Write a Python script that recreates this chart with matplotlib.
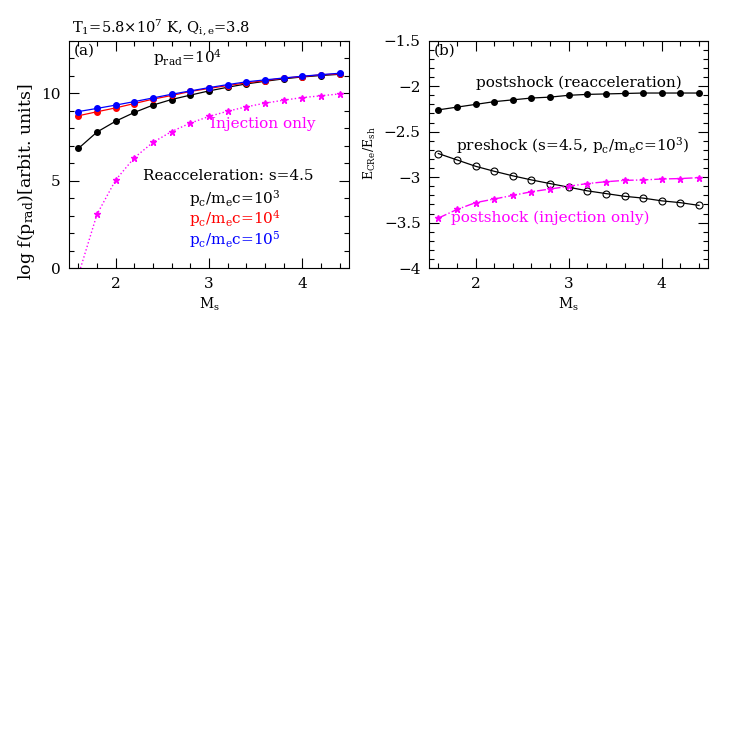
import numpy as np
import matplotlib
matplotlib.use('Agg')
import matplotlib.pyplot as plt
from matplotlib.ticker import MultipleLocator

plt.rcParams['font.family'] = 'DejaVu Serif'
plt.rcParams['mathtext.fontset'] = 'dejavuserif'

# Mach numbers
mach = [1.6, 1.8, 2.0, 2.2, 2.4, 2.6, 2.8, 3.0, 3.2, 3.4, 3.6, 3.8, 4.0, 4.2, 4.4]

# panel (a): log f(p_rad)
f_pc3 = [6.84, 7.78, 8.40, 8.90, 9.32, 9.64, 9.89, 10.13, 10.34, 10.53, 10.68, 10.82, 10.93, 11.01, 11.08]
f_pc4 = [8.71, 8.94, 9.16, 9.41, 9.66, 9.87, 10.10, 10.27, 10.44, 10.59, 10.72, 10.86, 10.95, 11.05, 11.10]
f_pc5 = [8.95, 9.13, 9.32, 9.52, 9.73, 9.94, 10.13, 10.32, 10.49, 10.65, 10.76, 10.87, 10.97, 11.06, 11.14]
f_inj = [-0.4, 3.08, 5.04, 6.31, 7.19, 7.81, 8.29, 8.67, 8.97, 9.22, 9.43, 9.60, 9.75, 9.85, 9.96]

# panel (b): log E_CRe/E_sh
e_post_reacc = [-2.26, -2.23, -2.20, -2.17, -2.15, -2.13, -2.12, -2.10, -2.09, -2.085, -2.08, -2.075, -2.075, -2.075, -2.075]
e_pre = [-2.74, -2.81, -2.88, -2.935, -2.985, -3.03, -3.07, -3.11, -3.15, -3.18, -3.21, -3.23, -3.26, -3.28, -3.31]
e_post_inj = [-3.45, -3.355, -3.28, -3.24, -3.20, -3.16, -3.13, -3.10, -3.07, -3.05, -3.035, -3.03, -3.02, -3.015, -3.005]

fig = plt.figure(figsize=(7.47, 7.47), dpi=100)
ax1 = fig.add_axes([0.0924, 0.641, 0.3746, 0.3045])
ax2 = fig.add_axes([0.5743, 0.641, 0.3739, 0.3045])


def style_axes(ax):
    ax.tick_params(which='both', direction='in', top=True, right=True, labelsize=11)
    ax.tick_params(which='major', length=7, width=0.8, pad=6)
    ax.tick_params(which='minor', length=3.5, width=0.8)
    for s in ax.spines.values():
        s.set_linewidth(0.8)


# panel (a)
ax1.plot(mach, f_pc3, '-o', color='black', lw=0.9, ms=4)
ax1.plot(mach, f_pc4, '-o', color='red', lw=0.9, ms=4)
ax1.plot(mach, f_pc5, '-o', color='blue', lw=0.9, ms=4)
ax1.plot(mach, f_inj, ':*', color='magenta', lw=1.0, ms=5)
ax1.set_xlim(1.5, 4.5)
ax1.set_ylim(0, 13)
ax1.set_xticks([2, 3, 4])
ax1.set_yticks([0, 5, 10])
ax1.xaxis.set_minor_locator(MultipleLocator(0.2))
ax1.yaxis.set_minor_locator(MultipleLocator(1))
style_axes(ax1)
ax1.set_xlabel(r'M$_\mathrm{s}$', fontsize=10)
ax1.set_ylabel(r'log f(p$_\mathrm{rad}$)[arbit. units]', fontsize=12.5)
ax1.yaxis.set_label_coords(-0.114, 0.38)
ax1.text(0.018, 0.985, '(a)', transform=ax1.transAxes, fontsize=11, va='top')
ax1.text(0.425, 0.925, r'p$_\mathrm{rad}$=10$^4$', transform=ax1.transAxes, fontsize=11, ha='center', va='center')
ax1.text(0.329, 1.058, r'T$_1$=5.8$\times$10$^7$ K, Q$_\mathrm{i,e}$=3.8', transform=ax1.transAxes,
         fontsize=10.5, ha='center', va='center')
ax1.text(0.693, 0.633, 'Injection only', transform=ax1.transAxes, fontsize=11, color='magenta', ha='center', va='center')
ax1.text(0.57, 0.405, 'Reacceleration: s=4.5', transform=ax1.transAxes, fontsize=11, ha='center', va='center')
ax1.text(0.593, 0.304, r'p$_\mathrm{c}$/m$_\mathrm{e}$c=10$^3$', transform=ax1.transAxes, fontsize=11, ha='center', va='center')
ax1.text(0.593, 0.216, r'p$_\mathrm{c}$/m$_\mathrm{e}$c=10$^4$', transform=ax1.transAxes, fontsize=11, color='red', ha='center', va='center')
ax1.text(0.593, 0.128, r'p$_\mathrm{c}$/m$_\mathrm{e}$c=10$^5$', transform=ax1.transAxes, fontsize=11, color='blue', ha='center', va='center')

# panel (b)
ax2.plot(mach, e_post_reacc, '-o', color='black', lw=0.9, ms=4)
ax2.plot(mach, e_pre, '-o', color='black', mfc='none', lw=0.9, ms=5, mew=0.8)
ax2.plot(mach, e_post_inj, '-.*', color='magenta', lw=1.0, ms=5)
ax2.set_xlim(1.5, 4.5)
ax2.set_ylim(-4, -1.5)
ax2.set_xticks([2, 3, 4])
ax2.set_yticks([-4, -3.5, -3, -2.5, -2, -1.5])
ax2.xaxis.set_minor_locator(MultipleLocator(0.2))
ax2.yaxis.set_minor_locator(MultipleLocator(0.1))
style_axes(ax2)
ax2.set_yticklabels(['\u22124', '\u22123.5', '\u22123', '\u22122.5', '\u22122', '\u22121.5'])
ax2.set_xlabel(r'M$_\mathrm{s}$', fontsize=10)
ax2.set_ylabel(r'E$_\mathrm{CRe}$/E$_\mathrm{sh}$', fontsize=9)
ax2.yaxis.set_label_coords(-0.183, 0.506)
ax2.text(0.018, 0.985, '(b)', transform=ax2.transAxes, fontsize=11, va='top')
ax2.text(0.537, 0.815, 'postshock (reacceleration)', transform=ax2.transAxes, fontsize=11, ha='center', va='center')
ax2.text(0.514, 0.537, r'preshock (s=4.5, p$_\mathrm{c}$/m$_\mathrm{e}$c=10$^3$)', transform=ax2.transAxes,
         fontsize=11, ha='center', va='center')
ax2.text(0.433, 0.22, 'postshock (injection only)', transform=ax2.transAxes, fontsize=11, color='magenta',
         ha='center', va='center')

fig.savefig('out.png', dpi=100)
